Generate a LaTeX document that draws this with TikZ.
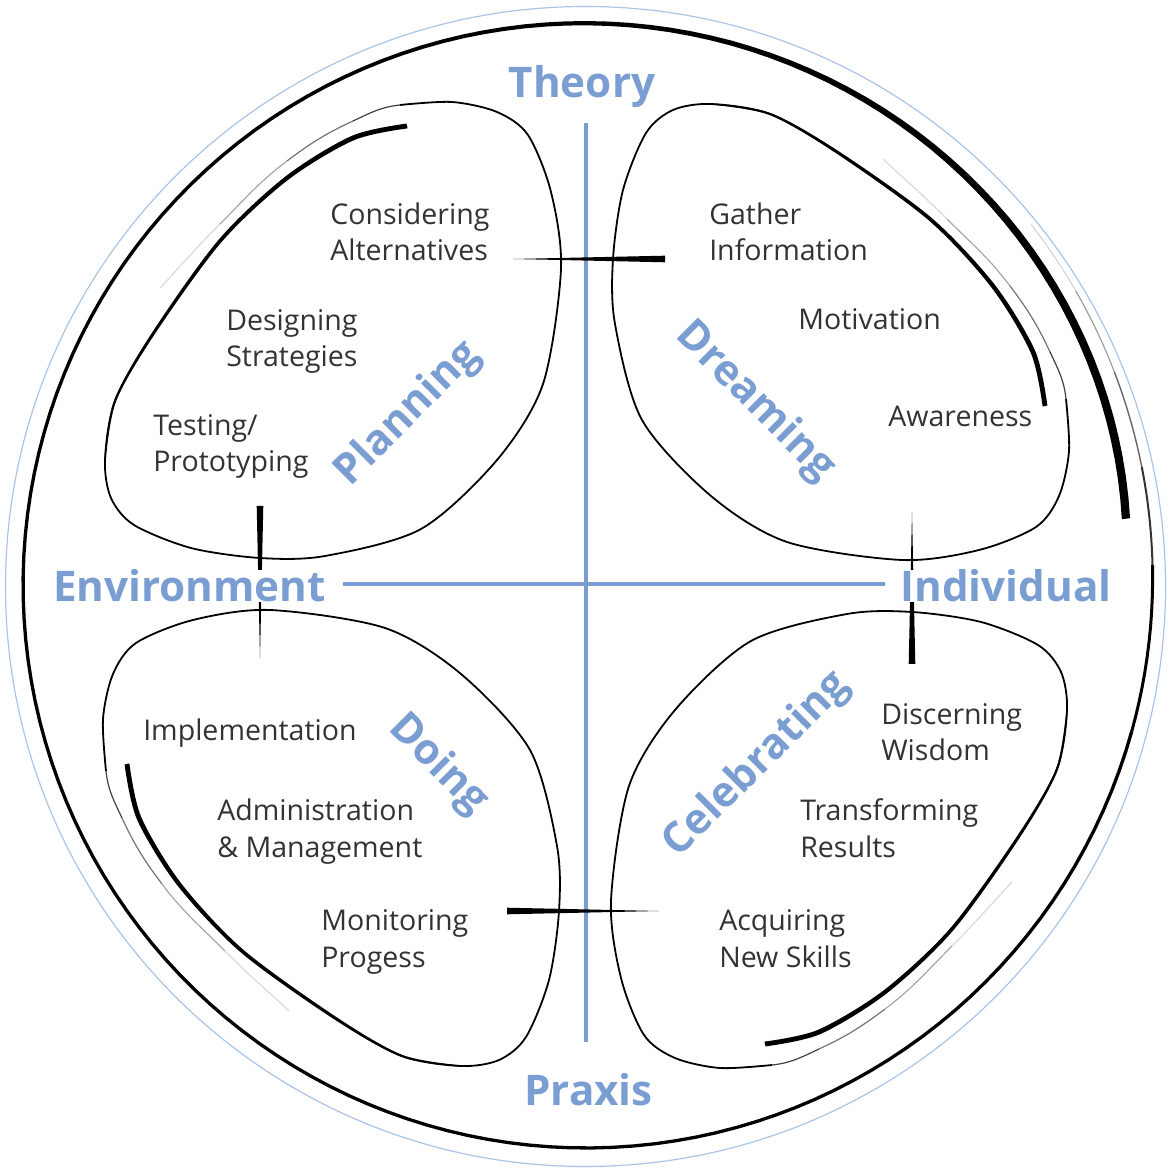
\documentclass[tikz,border=0pt]{standalone}
\usepackage{fontspec}
\setmainfont{Open Sans}
\definecolor{axisblue}{HTML}{7A9ED2}
\definecolor{rimblue}{HTML}{A9C4E6}

\tikzset{
        petal/.pic = {
            % brush outline, thick start
            \draw[line width=0.45mm] plot[smooth] coordinates {(-179,459) (-233,447) (-299,407) (-366,344) (-433,251) (-471,184) (-481,125) (-475,87) (-452,60) (-395,37) (-326,27) (-261,29) (-165,56) (-89,125) (-43,201) (-25,316) (-35,393) (-58,450) (-89,473) (-134,483) (-186,480)};
            \fill plot[smooth] coordinates {(-178.5,456.6) (-232,444.8) (-297.7,405.3) (-364.6,342.8) (-431.7,250.2) (-470,183.6) (-480.3,125)}
                -- plot[smooth] coordinates {(-481.7,125) (-472,184.4) (-434.3,251.8) (-367.4,345.2) (-300.3,408.7) (-234,449.2) (-179.5,461.4)} -- cycle;
            % fading tail
            \coordinate (t0) at (-186,480);
            \coordinate (t1) at (-233,464);
            \coordinate (t2) at (-299,424);
            \coordinate (t3) at (-366,361);
            \coordinate (t4) at (-426,297);
            \foreach \a/\b/\o/\i/\c in {t0/t1/186/25/75, t1/t2/205/37/55, t2/t3/217/45/35, t3/t4/225/47/15}
                \draw[line width=0.3mm, black!\c] (\a) to[out=\o, in=\i] (\b);
            % tick between two phases
            \fill (-73,326) -- (79,329.3) -- (79,322.7) -- cycle;
        },
        task/.style = {anchor=base west, align=left, inner sep=0pt, text=black!80,
            font=\fontsize{20.3}{26.3}\selectfont},
        pole/.style = {anchor=base, inner sep=0pt, text=axisblue,
            font=\fontsize{30}{36}\selectfont\bfseries},
        phase/.style = {inner sep=0pt, text=axisblue,
            font=\fontsize{30}{36}\selectfont\bfseries}
    }

\begin{document}
\begin{tikzpicture}[x=0.25mm, y=0.25mm,
        declare function={rr(\t)=544+19*(1-exp(-(\t-7)/30))+10*(max(\t-300,0)/100)^2;
                           ww(\t)=3.3+5*exp(-((\t-7)/65)^2);}]
            \useasboundingbox (-586,-586) rectangle (584,585);

            % rim
            \draw[line width=0.3mm, rimblue] (-0.5,-1.5) circle (580);
            \fill plot[domain=7:345, samples=160] (\x:{rr(\x)+ww(\x)/2})
                -- plot[domain=345:7, samples=160] (\x:{rr(\x)-ww(\x)/2}) -- cycle;
            \foreach \a/\b/\c/\w in {345/362/100/0.75, 362/372/80/0.5, 372/382/60/0.35, 382/391/40/0.28, 391/399/20/0.22}
                \draw[line width=\w mm, black!\c] plot[domain=\a:\b, samples=12] (\x:{rr(\x)});

            % axes
            \coordinate (theoryend) at (0,462);
            \coordinate (praxisend) at (0,-457);
            \coordinate (envend) at (-243,1);
            \coordinate (indend) at (299,1);
            \draw[line width=1mm, axisblue] (theoryend) -- (praxisend);
            \draw[line width=1mm, axisblue] (envend) -- (indend);

            % the four phases
            \foreach \r in {0,-90,-180,-270}
                \pic[rotate=\r] at (0,0) {petal};

            \node[pole] (theory) at (-4,487) {Theory};
            \node[pole] (praxis) at (2.5,-520) {Praxis};
            \node[pole, fill=white] (environment) at (-396.5,-17) {Environment};
            \node[pole, fill=white] (individual) at (420,-17) {Individual};

            \node[phase, rotate=45] (planning) at (-178,171) {Planning};
            \node[phase, rotate=-45] (dreaming) at (169,183) {Dreaming};
            \node[phase, rotate=-45] (doing) at (-148,-180) {Doing};
            \node[phase, rotate=45] (celebrating) at (171,-180) {Celebrating};

            % base of a two-line text is its last line
            \node[task] (considering) at (-256,324) {Considering\\Alternatives};
            \node[task] (designing) at (-360,218) {Designing\\Strategies};
            \node[task] (testing) at (-433,113) {Testing/\\Prototyping};
            \node[task] (gather) at (123,324) {Gather\\Information};
            \node[task] (motivation) at (212,255) {Motivation};
            \node[task] (awareness) at (302,158) {Awareness};
            \node[task] (implementation) at (-443,-156) {Implementation};
            \node[task] (administration) at (-369,-272) {Administration\\\& Management};
            \node[task] (monitoring) at (-265,-382) {Monitoring\\Progess};
            \node[task] (discerning) at (295,-176) {Discerning\\Wisdom};
            \node[task] (transforming) at (214,-272) {Transforming\\Results};
            \node[task] (acquiring) at (133,-382) {Acquiring\\New Skills};

        \end{tikzpicture}
\end{document}
